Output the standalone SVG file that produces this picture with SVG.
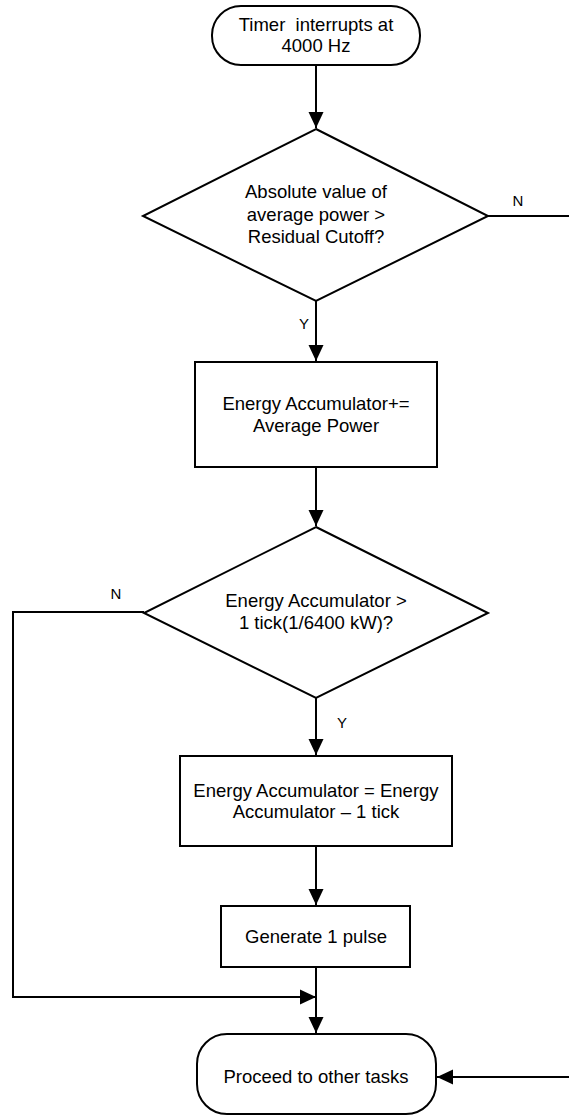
<svg xmlns="http://www.w3.org/2000/svg" width="569" height="1116" viewBox="0 0 569 1116">
<style>
.shape{fill:#fff;stroke:#000;stroke-width:2}
.conn{fill:none;stroke:#000;stroke-width:2}
text{font-family:"Liberation Sans",Arial,sans-serif;fill:#000;text-anchor:middle}
.t{font-size:18.5px}
.lbl{font-size:15px}
</style>
<defs>
<marker id="arr" viewBox="0 0 16 16" refX="16" refY="8" markerWidth="16" markerHeight="16" markerUnits="userSpaceOnUse" orient="auto">
<path d="M0,0.5 L16,8 L0,15.5 Z" fill="#000"/>
</marker>
</defs>
<rect width="569" height="1116" fill="#fff"/>
<g id="connectors">
<path class="conn" d="M316,65 L316,128" marker-end="url(#arr)"/>
<path class="conn" d="M316,301 L316,361" marker-end="url(#arr)"/>
<path class="conn" d="M316,467 L316,526" marker-end="url(#arr)"/>
<path class="conn" d="M316,698 L316,755" marker-end="url(#arr)"/>
<path class="conn" d="M316,846 L316,905" marker-end="url(#arr)"/>
<path class="conn" d="M316,967 L316,1033" marker-end="url(#arr)"/>
<path class="conn" d="M144,612 L13,612 L13,997 L316,997" marker-end="url(#arr)"/>
<path class="conn" d="M488,216 L572,216 L572,1077 L437,1077" marker-end="url(#arr)"/>
<text class="lbl" x="518" y="206">N</text>
<text class="lbl" x="304" y="329">Y</text>
<text class="lbl" x="116" y="599">N</text>
<text class="lbl" x="342" y="728">Y</text>
</g>
<g id="start">
<rect class="shape" x="212" y="6" width="208" height="59" rx="29" ry="29"/>
<text class="t" x="316" y="31" xml:space="preserve" style="white-space:pre">Timer  interrupts at</text>
<text class="t" x="316" y="52">4000 Hz</text>
</g>
<g id="decision1">
<polygon class="shape" points="316,129 488,216 316,301 143,216"/>
<text class="t" x="316" y="198">Absolute value of</text>
<text class="t" x="316" y="221">average power &gt;</text>
<text class="t" x="316" y="243">Residual Cutoff?</text>
</g>
<g id="accumulate">
<rect class="shape" x="195" y="362" width="242" height="105"/>
<text class="t" x="316" y="410">Energy Accumulator+=</text>
<text class="t" x="316" y="432">Average Power</text>
</g>
<g id="decision2">
<polygon class="shape" points="316,527 488,613 316,698 144,613"/>
<text class="t" x="316" y="607">Energy Accumulator &gt;</text>
<text class="t" x="316" y="629">1 tick(1/6400 kW)?</text>
</g>
<g id="subtract">
<rect class="shape" x="180" y="756" width="272" height="90"/>
<text class="t" x="316" y="797">Energy Accumulator = Energy</text>
<text class="t" x="316" y="818">Accumulator – 1 tick</text>
</g>
<g id="pulse">
<rect class="shape" x="221" y="906" width="189" height="61"/>
<text class="t" x="316" y="943">Generate 1 pulse</text>
</g>
<g id="end">
<rect class="shape" x="197" y="1034" width="239" height="80" rx="30" ry="30"/>
<text class="t" x="316" y="1083">Proceed to other tasks</text>
</g>
</svg>
